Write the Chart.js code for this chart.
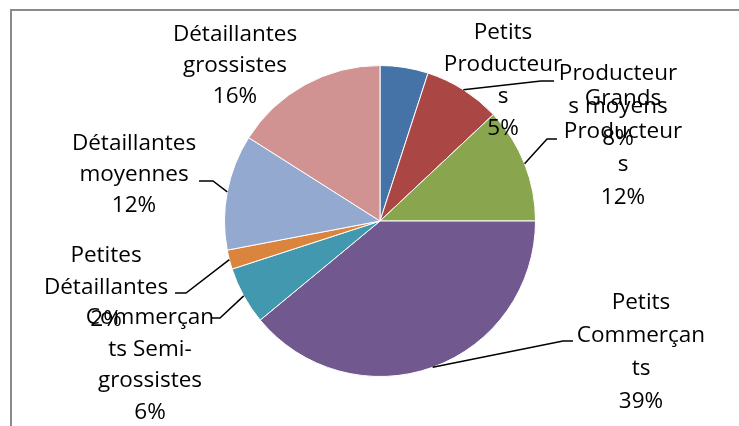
<!DOCTYPE html>
<html>
<head>
<meta charset="utf-8">
<script src="https://cdn.jsdelivr.net/npm/chart.js@4.4.1/dist/chart.umd.min.js"></script>
<style>
  html, body { margin: 0; padding: 0; background: #fff; }
  #wrap { width: 739px; height: 426px; position: relative; }
</style>
</head>
<body>
<div id="wrap"><canvas id="c" width="739" height="426"></canvas></div>
<script>
// ---- Data ----
const categories = [
  "Petits Producteurs",
  "Producteurs moyens",
  "Grands Producteurs",
  "Petits Commerçants",
  "Commerçants Semi-grossistes",
  "Petites Détaillantes",
  "Détaillantes moyennes",
  "Détaillantes grossistes"
];
const values = [5, 8, 12, 39, 6, 2, 12, 16];
// label text as wrapped in the reference (last line is the percentage)
const labelLines = [
  ["Petits", "Producteur", "s"],
  ["Producteur", "s moyens"],
  ["Grands", "Producteur", "s"],
  ["Petits", "Commerçan", "ts"],
  ["Commerçan", "ts Semi-", "grossistes"],
  ["Petites", "Détaillantes"],
  ["Détaillantes", "moyennes"],
  ["Détaillantes", "grossistes"]
];
const colors = ["#4572A7", "#AA4643", "#89A54E", "#71588F", "#4198AF", "#DB843D", "#93A9CF", "#D19392"];

// ---- Label layout (text placement + leader elbows) ----
const labelLayout = [
  { x: 503, y: 33, lh: 32, leader: null },
  { x: 618, y: 74, lh: 32.5, leader: { ex: 541, ey: 81, tx: 554 } },
  { x: 623, y: 99, lh: 33, leader: { ex: 547, ey: 139, tx: 557 } },
  { x: 641, y: 303, lh: 33, leader: { ex: 563, ey: 341, tx: 573 } },
  { x: 150, y: 318, lh: 31.5, leader: { ex: 220, ey: 318, tx: 211 } },
  { x: 106, y: 256, lh: 32, leader: { ex: 186, ey: 293, tx: 175 } },
  { x: 134, y: 144, lh: 31, leader: { ex: 213, ey: 181, tx: 199 } },
  { x: 235, y: 35, lh: 31, leader: null }
];

const total = values.reduce((a, b) => a + b, 0);

const framePlugin = {
  id: 'frame',
  beforeDraw(chart) {
    const ctx = chart.ctx;
    ctx.save();
    ctx.fillStyle = '#fff';
    ctx.fillRect(0, 0, chart.width, chart.height);
    ctx.strokeStyle = '#8a8a8a';
    ctx.lineWidth = 2;
    ctx.beginPath();
    ctx.moveTo(11, chart.height);
    ctx.lineTo(11, 10);
    ctx.lineTo(chart.width, 10);
    ctx.stroke();
    ctx.restore();
  }
};

const labelPlugin = {
  id: 'outLabels',
  afterDatasetsDraw(chart) {
    const ctx = chart.ctx;
    const meta = chart.getDatasetMeta(0);
    ctx.save();
    // leader lines
    ctx.strokeStyle = '#000';
    ctx.lineWidth = 1.5;
    meta.data.forEach((arc, i) => {
      const L = labelLayout[i];
      if (!L.leader) return;
      const p = arc.getProps(['x', 'y', 'startAngle', 'endAngle', 'outerRadius'], true);
      const mid = (p.startAngle + p.endAngle) / 2;
      const sx = p.x + Math.cos(mid) * p.outerRadius;
      const sy = p.y + Math.sin(mid) * p.outerRadius;
      ctx.beginPath();
      ctx.moveTo(sx, sy);
      ctx.lineTo(L.leader.ex, L.leader.ey);
      ctx.lineTo(L.leader.tx, L.leader.ey);
      ctx.stroke();
    });
    // texts
    ctx.fillStyle = '#000';
    ctx.font = '22.5px "Open Sans", "Noto Sans", sans-serif';
    ctx.textAlign = 'center';
    ctx.textBaseline = 'middle';
    meta.data.forEach((arc, i) => {
      const L = labelLayout[i];
      const lines = labelLines[i].concat([Math.round(values[i] / total * 100) + '%']);
      lines.forEach((t, k) => ctx.fillText(t, L.x, L.y + k * L.lh));
    });
    ctx.restore();
  }
};

new Chart(document.getElementById('c'), {
  type: 'pie',
  data: {
    labels: categories,
    datasets: [{
      data: values,
      backgroundColor: colors,
      borderColor: '#ffffff',
      borderWidth: 1
    }]
  },
  options: {
    responsive: false,
    animation: false,
    layout: { padding: { left: 224, right: 203, top: 65, bottom: 49 } },
    plugins: {
      legend: { display: false },
      tooltip: { enabled: false }
    }
  },
  plugins: [framePlugin, labelPlugin]
});
</script>
</body>
</html>
